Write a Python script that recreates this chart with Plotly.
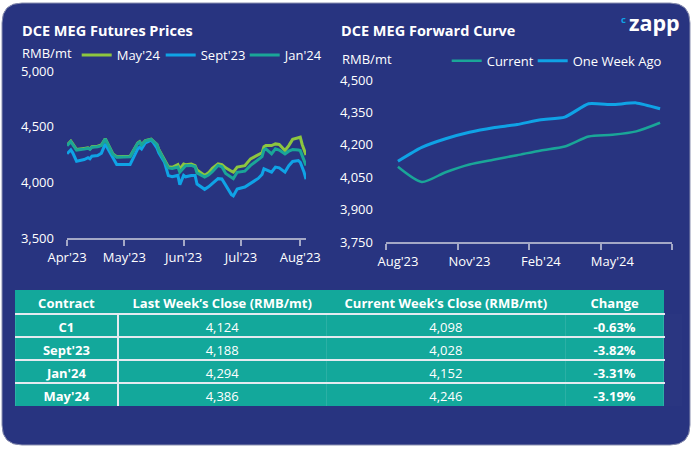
import plotly.graph_objects as go

W, H = 693, 449
FONT = "Open Sans"
NAVY = "#283480"
GREEN = "#8DC63F"
BLUE = "#0FA3E6"
TEAL = "#1AA698"
TABLE_TEAL = "#13A89B"
AXIS = "#A4A8C6"

# ---------------- DCE MEG Futures Prices ----------------
fut_dates = [
    "2023-04-01", "2023-04-03", "2023-04-04", "2023-04-06", "2023-04-10", "2023-04-12",
    "2023-04-13", "2023-04-14", "2023-04-17", "2023-04-19", "2023-04-21", "2023-04-25",
    "2023-04-27", "2023-05-04", "2023-05-08", "2023-05-09", "2023-05-10", "2023-05-12",
    "2023-05-15", "2023-05-16", "2023-05-18", "2023-05-19", "2023-05-22", "2023-05-24",
    "2023-05-26", "2023-05-29", "2023-05-30", "2023-06-01", "2023-06-02", "2023-06-05",
    "2023-06-07", "2023-06-08", "2023-06-12", "2023-06-14", "2023-06-16", "2023-06-19",
    "2023-06-21", "2023-06-23", "2023-06-26", "2023-06-27", "2023-06-29", "2023-07-03",
    "2023-07-06", "2023-07-10", "2023-07-12", "2023-07-13", "2023-07-14", "2023-07-17",
    "2023-07-19", "2023-07-21", "2023-07-24", "2023-07-26", "2023-07-28", "2023-07-31",
    "2023-08-01", "2023-08-02", "2023-08-03", "2023-08-04",
]
may24 = [
    4335, 4370, 4345, 4295, 4305, 4310, 4300, 4320, 4325, 4335, 4392, 4255,
    4230, 4235, 4352, 4365, 4338, 4375, 4388, 4372, 4342, 4295, 4205, 4140,
    4135, 4160, 4120, 4165, 4158, 4165, 4150, 4110, 4062, 4085, 4125, 4167,
    4160, 4130, 4100, 4092, 4137, 4150, 4211, 4250, 4265, 4320, 4330, 4330,
    4345, 4340, 4286, 4330, 4386, 4400, 4405, 4340, 4300, 4246,
]
sep23 = [
    4256, 4292, 4265, 4190, 4205, 4222, 4211, 4235, 4240, 4262, 4345, 4230,
    4161, 4161, 4300, 4315, 4300, 4355, 4378, 4360, 4310, 4265, 4180, 4060,
    4050, 4062, 3978, 4062, 4050, 4062, 4062, 3985, 3937, 3960, 3990, 4033,
    4030, 3970, 3890, 3878, 3940, 3958, 3990, 4035, 4070, 4122, 4115, 4092,
    4137, 4130, 4092, 4150, 4188, 4196, 4180, 4140, 4090, 4028,
]
jan24 = [
    4330, 4366, 4340, 4290, 4300, 4306, 4296, 4315, 4320, 4330, 4390, 4250,
    4226, 4230, 4350, 4362, 4335, 4372, 4385, 4370, 4340, 4290, 4195, 4130,
    4125, 4137, 4092, 4137, 4150, 4152, 4140, 4085, 4047, 4065, 4095, 4152,
    4140, 4080, 4040, 4033, 4090, 4100, 4152, 4200, 4230, 4290, 4301, 4256,
    4301, 4290, 4256, 4280, 4294, 4290, 4285, 4240, 4200, 4152,
]
fut_tick_dates = ["2023-04-01", "2023-05-01", "2023-06-01", "2023-07-01", "2023-08-01"]
fut_tick_labels = ["Apr'23", "May'23", "Jun'23", "Jul'23", "Aug'23"]
fut_y_ticks = [3500, 4000, 4500, 5000]

# ---------------- DCE MEG Forward Curve ----------------
fc_months = ["Aug'23", "Sep'23", "Oct'23", "Nov'23", "Dec'23", "Jan'24",
             "Feb'24", "Mar'24", "Apr'24", "May'24", "Jun'24", "Jul'24"]
fc_current = [4098, 4028, 4073, 4109, 4131, 4152, 4174, 4192, 4238, 4246, 4262, 4302]
fc_week_ago = [4124, 4188, 4228, 4258, 4279, 4294, 4316, 4328, 4390, 4386, 4394, 4367]
fc_y_ticks = [3750, 3900, 4050, 4200, 4350, 4500]

# ---------------- Table ----------------
tbl_header = ["Contract", "Last Week’s Close (RMB/mt)", "Current Week’s Close (RMB/mt)", "Change"]
tbl_contract = ["C1", "Sept'23", "Jan'24", "May'24"]
tbl_last = [4124, 4188, 4294, 4386]
tbl_current = [4098, 4028, 4152, 4246]
tbl_change = ["-0.63%", "-3.82%", "-3.31%", "-3.19%"]


def X(px):
    return px / W


def Y(py):
    return 1 - py / H


def nowrap(s):
    # non-breaking spaces keep plotly's table from re-flowing the header text
    return s.replace(" ", "\u00a0")


fig = go.Figure()

fig.add_trace(go.Scatter(x=fut_dates, y=may24, name="May'24", mode="lines", legendwidth=39,
                         line=dict(color=GREEN, width=3), xaxis="x", yaxis="y", legend="legend"))
fig.add_trace(go.Scatter(x=fut_dates, y=sep23, name="Sept'23", mode="lines", legendwidth=39,
                         line=dict(color=BLUE, width=3), xaxis="x", yaxis="y", legend="legend"))
fig.add_trace(go.Scatter(x=fut_dates, y=jan24, name="Jan'24", mode="lines",
                         line=dict(color=TEAL, width=3), xaxis="x", yaxis="y", legend="legend"))

fc_x = list(range(len(fc_months)))
fig.add_trace(go.Scatter(x=fc_x, y=fc_current, name="Current", mode="lines", legendwidth=41,
                         line=dict(color=TEAL, width=2.5, shape="spline", smoothing=0.7),
                         xaxis="x2", yaxis="y2", legend="legend2"))
fig.add_trace(go.Scatter(x=fc_x, y=fc_week_ago, name="One Week Ago", mode="lines",
                         line=dict(color=BLUE, width=3, shape="spline", smoothing=0.5),
                         xaxis="x2", yaxis="y2", legend="legend2"))

fig.add_trace(go.Table(
    domain=dict(x=[X(15), X(665)], y=[Y(406), Y(290)]),
    columnwidth=[103, 209, 239, 99],
    header=dict(values=[nowrap(h) for h in tbl_header],
                fill_color=TABLE_TEAL, align="center", height=24,
                line=dict(color=TABLE_TEAL, width=1),
                font=dict(family=FONT, size=13, color="white", weight="bold")),
    cells=dict(values=[tbl_contract,
                       [f"{v:,}" for v in tbl_last],
                       [f"{v:,}" for v in tbl_current],
                       tbl_change],
               fill_color=TABLE_TEAL, align="center", height=23,
               line=dict(color="#2BB0A5", width=1),
               font=dict(family=FONT, size=13, color="white",
                         weight=["bold", "normal", "normal", "bold"])),
))

# rounded navy panel
x0, y0, x1, y1, r = 2, 3, 690, 445, 20
panel = (f"M {X(x0 + r)},{Y(y0)} L {X(x1 - r)},{Y(y0)} Q {X(x1)},{Y(y0)} {X(x1)},{Y(y0 + r)} "
         f"L {X(x1)},{Y(y1 - r)} Q {X(x1)},{Y(y1)} {X(x1 - r)},{Y(y1)} "
         f"L {X(x0 + r)},{Y(y1)} Q {X(x0)},{Y(y1)} {X(x0)},{Y(y1 - r)} "
         f"L {X(x0)},{Y(y0 + r)} Q {X(x0)},{Y(y0)} {X(x0 + r)},{Y(y0)} Z")
shapes = [dict(type="path", path=panel, xref="paper", yref="paper", layer="below",
               fillcolor=NAVY, line=dict(color="#8A8FB0", width=1))]
# white row separators / first column divider in table
row_bounds = [314, 337, 360, 383]
for yb in row_bounds:
    shapes.append(dict(type="line", xref="paper", yref="paper", x0=X(15), x1=X(665),
                       y0=Y(yb), y1=Y(yb), line=dict(color="#E4EAF0", width=2), layer="above"))
shapes.append(dict(type="line", xref="paper", yref="paper", x0=X(118), x1=X(118),
                   y0=Y(314), y1=Y(406), line=dict(color="#E4EAF0", width=2), layer="above"))

tickfont = dict(family=FONT, size=13, color="white")
annotations = [
    dict(text="<b>DCE MEG Futures Prices</b>", x=X(20), y=Y(30), xref="paper", yref="paper",
         xanchor="left", yanchor="middle", showarrow=False, font=dict(family=FONT, size=14.5, color="white")),
    dict(text="RMB/mt", x=X(20), y=Y(53), xref="paper", yref="paper",
         xanchor="left", yanchor="middle", showarrow=False, font=tickfont),
    dict(text="<b>DCE MEG Forward Curve</b>", x=X(339), y=Y(30), xref="paper", yref="paper",
         xanchor="left", yanchor="middle", showarrow=False, font=dict(family=FONT, size=14.5, color="white")),
    dict(text="RMB/mt", x=X(340), y=Y(59), xref="paper", yref="paper",
         xanchor="left", yanchor="middle", showarrow=False, font=tickfont),
    dict(text="<b>zapp</b>", x=X(626.5), y=Y(22), xref="paper", yref="paper",
         xanchor="left", yanchor="middle", showarrow=False, font=dict(family=FONT, size=21.5, color="white")),
    dict(text="<b>c</b>", x=X(628), y=Y(19), xref="paper", yref="paper",
         xanchor="right", yanchor="middle", showarrow=False, font=dict(family=FONT, size=9.5, color=BLUE)),
]

fig.update_layout(
    width=W, height=H, margin=dict(l=0, r=0, t=0, b=0, autoexpand=False),
    paper_bgcolor="white", plot_bgcolor="rgba(0,0,0,0)",
    font=dict(family=FONT, color="white"),
    shapes=shapes, annotations=annotations,
    xaxis=dict(domain=[X(67), X(306)], range=["2023-04-01", "2023-08-04"], anchor="y",
               tickvals=fut_tick_dates, ticktext=fut_tick_labels,
               showline=True, linecolor=AXIS, linewidth=2, ticks="outside", ticklen=6,
               tickcolor=AXIS, tickwidth=2, showgrid=False, zeroline=False, tickfont=tickfont),
    yaxis=dict(domain=[Y(238), Y(71)], range=[3500, 5000], anchor="x",
               tickvals=fut_y_ticks, tickformat=",", showgrid=False, zeroline=False,
               showline=False, ticks="", ticklabelstandoff=12, tickfont=tickfont),
    xaxis2=dict(domain=[X(386), X(672)], range=[-0.5, len(fc_months) - 0.5], anchor="y2",
                tickvals=fc_x[::3], ticktext=fc_months[::3],
                showline=True, linecolor=AXIS, linewidth=2, ticks="outside", ticklen=6,
                tickcolor="rgba(0,0,0,0)", showgrid=False, zeroline=False, tickfont=tickfont,
                minor=dict(tickvals=[i - 0.5 for i in range(0, len(fc_months) + 1, 3)],
                           ticks="outside", ticklen=6, tickcolor=AXIS, tickwidth=2, showgrid=False)),
    yaxis2=dict(domain=[Y(242), Y(80)], range=[3750, 4500], anchor="x2",
                tickvals=fc_y_ticks, tickformat=",", showgrid=False, zeroline=False,
                showline=False, ticks="", ticklabelstandoff=12, tickfont=tickfont),
    legend=dict(x=X(76.7), y=Y(55), xanchor="left", yanchor="middle", orientation="h",
                bgcolor="rgba(0,0,0,0)", font=tickfont, tracegroupgap=0),
    legend2=dict(x=X(446.7), y=Y(60.7), xanchor="left", yanchor="middle", orientation="h",
                 bgcolor="rgba(0,0,0,0)", font=tickfont, tracegroupgap=0),
    showlegend=True,
)

fig.write_html("out.html", config={"displayModeBar": False})
